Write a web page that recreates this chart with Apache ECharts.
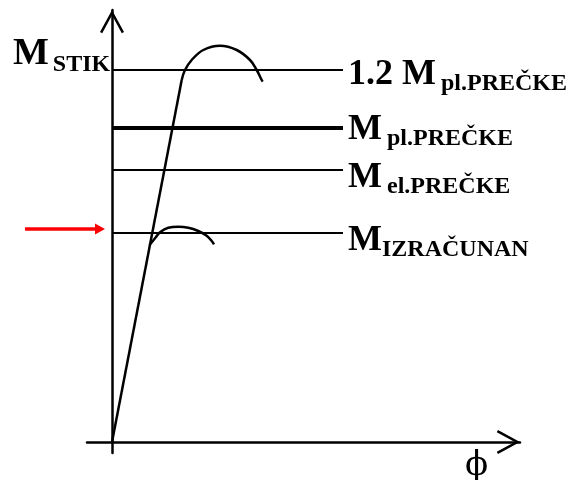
<!DOCTYPE html>
<html>
<head>
<meta charset="utf-8">
<script src="https://cdn.jsdelivr.net/npm/echarts@6/dist/echarts.min.js"></script>
<style>
  html, body { margin: 0; padding: 0; background: #fff; }
  #chart { width: 576px; height: 480px; }
</style>
</head>
<body>
<div id="chart"></div>
<script>
// moment levels (horizontal lines)
const levelMain = ['1.2 M', 'M', 'M', 'M'];
const levelSub = ['pl.PREČKE', 'pl.PREČKE', 'el.PREČKE', 'IZRAČUNAN'];
const levelValue = [372, 314, 272, 209];
const levelEndPhi = 231;

// elastic branch from origin
const elasticPhi = [0, 69.7];
const elasticM = [0, 362];

// upper arc (1.2 Mpl)
const upperPhi = [69.7, 73, 79.7, 91.3, 108, 124.7, 138, 144.7, 149.7, 150.7];
const upperM = [362, 372, 382, 392, 396.3, 392, 382, 372, 362, 360.3];

// lower arc (M izračunan)
const lowerPhi = [37.5, 43, 48, 56.3, 66.3, 76.3, 86.3, 94.7, 100.3, 102];
const lowerM = [197, 203.7, 209.7, 214.3, 215.3, 214.3, 211, 206.3, 200.3, 197.7];

// red pointer
const pointerPhi = [-87, -12];
const pointerM = 213;

const zip = (xs, ys) => xs.map((x, i) => [x, ys[i]]);

const chevron = 'path://M12,0 L24,22 L21.8,23.2 L12,5.2 L2.2,23.2 L0,22 Z';
const serif = 'Liberation Serif';

const chart = echarts.init(document.getElementById('chart'), null, { renderer: 'canvas' });

const labelOffsets = [[0, 8], [0, 5], [0, 11], [0, 11]];

const levelSeries = levelValue.map((v, i) => ({
  type: 'line',
  silent: true,
  symbol: 'none',
  clip: false,
  lineStyle: { color: '#000', width: i === 1 ? 4 : 2 },
  endLabel: {
    show: true,
    distance: 5,
    offset: labelOffsets[i],
    formatter: '{m|' + levelMain[i] + '}{s|' + levelSub[i] + '}',
    rich: {
      m: { fontFamily: serif, fontWeight: 'bold', fontSize: 36, color: '#000', lineHeight: 36, padding: [0, i === 3 ? 0 : 5, 6, 0] },
      s: { fontFamily: serif, fontWeight: 'bold', fontSize: 24, color: '#000', lineHeight: 24, verticalAlign: 'bottom' }
    }
  },
  data: [[0, v], [levelEndPhi, v]]
}));

const hiddenAxis = {
  axisLine: { show: false },
  axisTick: { show: false },
  axisLabel: { show: false },
  splitLine: { show: false }
};

const option = {
  animation: false,
  backgroundColor: '#fff',
  grid: [
    { left: 87, right: 56, top: 10, bottom: 27 },
    { left: 0, right: 56, top: 10, bottom: 27 }
  ],
  xAxis: [
    {
      type: 'value',
      min: -25,
      max: 408,
      axisLine: {
        onZero: true,
        symbol: ['none', chevron],
        symbolSize: [24, 23.2],
        symbolOffset: [0, -11.6],
        lineStyle: { color: '#000', width: 2.5 }
      },
      axisTick: { show: false },
      axisLabel: { show: false },
      splitLine: { show: false }
    },
    Object.assign({ type: 'value', gridIndex: 1, min: -112, max: 408 }, hiddenAxis)
  ],
  yAxis: [
    {
      type: 'value',
      min: -11,
      max: 432,
      axisLine: {
        show: true,
        onZero: true,
        symbol: ['none', chevron],
        symbolSize: [24, 23.2],
        symbolOffset: [0, -11.6],
        lineStyle: { color: '#000', width: 2.5 }
      },
      axisTick: { show: false },
      axisLabel: { show: false },
      splitLine: { show: false }
    },
    Object.assign({ type: 'value', gridIndex: 1, min: -11, max: 432 }, hiddenAxis)
  ],
  graphic: [
    {
      type: 'text',
      left: 13,
      top: 35,
      style: {
        text: '{m|M}{s|STIK}',
        rich: {
          m: { fontFamily: serif, fontWeight: 'bold', fontSize: 38, lineHeight: 38, padding: [0, 4, 7, 0] },
          s: { fontFamily: serif, fontWeight: 'bold', fontSize: 24, lineHeight: 26, verticalAlign: 'bottom' }
        }
      }
    },
    {
      type: 'text',
      left: 465,
      top: 449,
      style: { text: 'ϕ', fontFamily: 'DejaVu Serif', fontSize: 34, fill: '#000' }
    }
  ],
  series: levelSeries.concat([
    {
      type: 'line',
      silent: true,
      symbol: 'none',
      clip: false,
      lineStyle: { color: '#000', width: 2.5 },
      data: zip(elasticPhi, elasticM)
    },
    {
      type: 'line',
      silent: true,
      symbol: 'none',
      smooth: 0.4,
      clip: false,
      lineStyle: { color: '#000', width: 2.5 },
      data: zip(upperPhi, upperM)
    },
    {
      type: 'line',
      silent: true,
      symbol: 'none',
      smooth: 0.4,
      clip: false,
      lineStyle: { color: '#000', width: 2.5 },
      data: zip(lowerPhi, lowerM)
    },
    {
      type: 'line',
      silent: true,
      xAxisIndex: 1,
      yAxisIndex: 1,
      symbol: 'none',
      showSymbol: true,
      clip: false,
      lineStyle: { color: '#ff0000', width: 3.5 },
      data: [
        [pointerPhi[0], pointerM],
        { value: [pointerPhi[1], pointerM], symbol: 'triangle', symbolSize: [11, 10], symbolRotate: -90, itemStyle: { color: '#ff0000' } }
      ]
    }
  ])
};

chart.setOption(option);
</script>
</body>
</html>
